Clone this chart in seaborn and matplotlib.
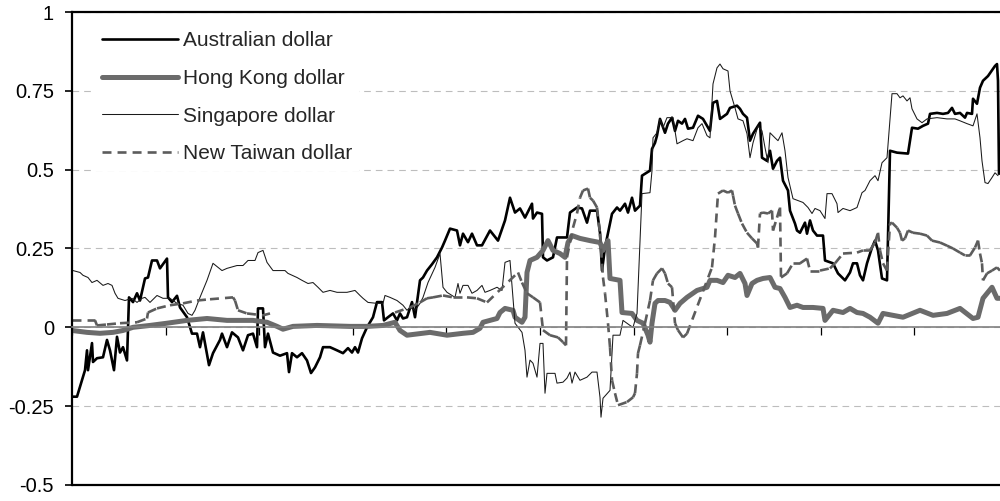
# plot.py
# Asian currency co-movement chart, rebuilt with seaborn / matplotlib

import numpy as np
import pandas as pd
import matplotlib
matplotlib.use("Agg")
import matplotlib.pyplot as plt
import seaborn as sns
from matplotlib.collections import LineCollection
from matplotlib.lines import Line2D

# ---------- DATA ----------
# obs = observation number along the time axis, one year = 93.6 observations
AUD = [
    (1, -0.22), (5, -0.22), (13, -0.136), (15, -0.073), (16, -0.136), (20, -0.05), (21, -0.11),
    (25, -0.098), (31, -0.095), (35, -0.04), (38, -0.073), (42, -0.136), (45, -0.03), (48, -0.08),
    (51, -0.063), (55, -0.105), (57, 0.095), (61, 0.08), (65, 0.108), (68, 0.085), (73, 0.155),
    (76, 0.158), (80, 0.212), (85, 0.212), (88, 0.187), (95, 0.218), (96, 0.095), (100, 0.08),
    (105, 0.1), (108, 0.063), (115, 0.032), (120, -0.02), (125, -0.02), (128, -0.063), (131, -0.016),
    (137, -0.12), (141, -0.082), (148, -0.04), (150, -0.02), (155, -0.063), (160, -0.016),
    (166, -0.032), (171, -0.073), (176, -0.025), (181, -0.02), (185, -0.063), (186, 0.06),
    (191, 0.06), (193, -0.063), (196, -0.02), (201, -0.08), (208, -0.09), (215, -0.082),
    (217, -0.142), (220, -0.082), (225, -0.095), (230, -0.082), (235, -0.105), (239, -0.145),
    (243, -0.127), (248, -0.095), (251, -0.063), (258, -0.063), (265, -0.073), (271, -0.082),
    (276, -0.066), (280, -0.08), (283, -0.063), (286, -0.08), (290, -0.035), (295, 0.0),
    (301, 0.032), (305, 0.08), (310, 0.08), (312, 0.022), (316, 0.032), (321, 0.044), (325, 0.022),
    (328, 0.044), (331, 0.028), (335, 0.032), (340, 0.08), (343, 0.032), (348, 0.149), (351, 0.158),
    (355, 0.18), (360, 0.2), (365, 0.222), (370, 0.253), (373, 0.275), (378, 0.313), (385, 0.307),
    (388, 0.26), (391, 0.297), (396, 0.27), (400, 0.297), (405, 0.26), (410, 0.26), (418, 0.307),
    (426, 0.275), (433, 0.339), (438, 0.411), (443, 0.364), (448, 0.377), (453, 0.348),
    (460, 0.392), (461, 0.345), (465, 0.364), (470, 0.36), (471, 0.222), (475, 0.212),
    (481, 0.222), (485, 0.285), (495, 0.285), (498, 0.364), (505, 0.38), (510, 0.377),
    (515, 0.332), (518, 0.37), (525, 0.37), (528, 0.3), (530, 0.18), (533, 0.253), (540, 0.36),
    (545, 0.38), (548, 0.37), (553, 0.392), (556, 0.364), (560, 0.411), (563, 0.37), (568, 0.386),
    (570, 0.481), (578, 0.497), (580, 0.566), (583, 0.585), (585, 0.608), (588, 0.661),
    (593, 0.617), (596, 0.646), (600, 0.665), (603, 0.623), (606, 0.655), (610, 0.646),
    (613, 0.661), (616, 0.63), (621, 0.633), (626, 0.671), (631, 0.661), (635, 0.639),
    (638, 0.623), (641, 0.712), (645, 0.718), (648, 0.661), (655, 0.677), (658, 0.696),
    (665, 0.703), (668, 0.693), (671, 0.677), (675, 0.665), (678, 0.592), (681, 0.614),
    (688, 0.649), (690, 0.538), (695, 0.528), (698, 0.56), (701, 0.503), (705, 0.528),
    (708, 0.538), (711, 0.465), (716, 0.434), (718, 0.37), (723, 0.329), (725, 0.307),
    (728, 0.3), (733, 0.332), (735, 0.297), (738, 0.339), (741, 0.307), (745, 0.291),
    (751, 0.291), (753, 0.212), (761, 0.203), (766, 0.171), (773, 0.149), (778, 0.174),
    (781, 0.203), (785, 0.203), (788, 0.165), (791, 0.149), (795, 0.203), (800, 0.253),
    (803, 0.275), (806, 0.244), (810, 0.155), (815, 0.149), (818, 0.56), (825, 0.554),
    (836, 0.551), (840, 0.633), (846, 0.63), (851, 0.639), (856, 0.646), (858, 0.677),
    (865, 0.68), (871, 0.677), (876, 0.68), (880, 0.696), (883, 0.677), (888, 0.68),
    (893, 0.665), (895, 0.68), (900, 0.677), (901, 0.725), (905, 0.709), (908, 0.76),
    (911, 0.782), (916, 0.797), (923, 0.829), (925, 0.835), (926, 0.782), (927, 0.487),
]

HKD = [
    (0, -0.01), (15, -0.016), (28, -0.019), (41, -0.016), (51, -0.01), (61, 0.0), (78, 0.006),
    (95, 0.013), (115, 0.022), (135, 0.028), (155, 0.022), (181, 0.022), (195, 0.016),
    (205, 0.003), (211, -0.006), (221, 0.003), (245, 0.006), (278, 0.003), (295, 0.003),
    (311, 0.006), (323, 0.016), (328, -0.01), (335, -0.025), (358, -0.016), (375, -0.025),
    (391, -0.019), (401, -0.016), (408, -0.003), (411, 0.016), (418, 0.022), (425, 0.028),
    (428, 0.047), (433, 0.06), (441, 0.054), (443, 0.032), (450, 0.016), (453, 0.032),
    (455, 0.174), (458, 0.212), (465, 0.222), (471, 0.244), (476, 0.275), (481, 0.244),
    (488, 0.234), (493, 0.222), (496, 0.269), (500, 0.291), (508, 0.282), (518, 0.275),
    (528, 0.269), (531, 0.244), (536, 0.275), (538, 0.155), (548, 0.149), (550, 0.047),
    (560, 0.044), (565, 0.022), (571, 0.013), (576, -0.025), (578, -0.047), (580, 0.013),
    (583, 0.076), (586, 0.085), (593, 0.085), (598, 0.079), (603, 0.054), (608, 0.076),
    (615, 0.095), (625, 0.117), (635, 0.127), (638, 0.149), (645, 0.149), (651, 0.142),
    (656, 0.165), (663, 0.158), (668, 0.171), (673, 0.139), (675, 0.101), (680, 0.139),
    (685, 0.149), (691, 0.155), (698, 0.158), (703, 0.127), (708, 0.123), (713, 0.095),
    (718, 0.063), (725, 0.07), (731, 0.063), (741, 0.063), (751, 0.06), (753, 0.022),
    (761, 0.054), (771, 0.047), (778, 0.06), (785, 0.047), (791, 0.044), (798, 0.032),
    (806, 0.013), (811, 0.044), (821, 0.038), (831, 0.032), (848, 0.054), (861, 0.038),
    (875, 0.044), (888, 0.06), (901, 0.028), (906, 0.032), (911, 0.092), (920, 0.127),
    (925, 0.092), (928, 0.092),
]

SGD = [
    (1, 0.18), (8, 0.174), (11, 0.165), (16, 0.158), (20, 0.142), (25, 0.149), (31, 0.133),
    (36, 0.139), (40, 0.133), (43, 0.108), (46, 0.092), (53, 0.085), (60, 0.092), (65, 0.079),
    (70, 0.092), (73, 0.095), (78, 0.079), (85, 0.101), (91, 0.092), (98, 0.092), (105, 0.076),
    (111, 0.07), (116, 0.044), (120, 0.038), (123, 0.054), (128, 0.095), (135, 0.149),
    (141, 0.203), (146, 0.19), (150, 0.18), (155, 0.187), (165, 0.196), (171, 0.196),
    (176, 0.212), (183, 0.212), (186, 0.237), (191, 0.244), (195, 0.206), (201, 0.18),
    (213, 0.18), (216, 0.171), (225, 0.158), (230, 0.149), (236, 0.139), (241, 0.142),
    (246, 0.127), (251, 0.111), (258, 0.117), (265, 0.111), (275, 0.111), (283, 0.117),
    (288, 0.101), (291, 0.092), (296, 0.079), (305, 0.076), (311, 0.076), (313, 0.101),
    (318, 0.095), (325, 0.085), (331, 0.07), (335, 0.054), (338, 0.063), (343, 0.054),
    (348, 0.076), (351, 0.095), (356, 0.142), (363, 0.19), (368, 0.234), (371, 0.127),
    (375, 0.111), (383, 0.095), (386, 0.139), (388, 0.108), (391, 0.133), (396, 0.133),
    (400, 0.108), (405, 0.117), (410, 0.133), (413, 0.111), (418, 0.117), (425, 0.127),
    (430, 0.117), (433, 0.206), (438, 0.212), (443, 0.013), (450, -0.016), (453, -0.073),
    (455, -0.158), (458, -0.104), (461, -0.114), (465, -0.158), (468, -0.051), (471, -0.051),
    (473, -0.209), (475, -0.146), (483, -0.146), (485, -0.177), (491, -0.174), (495, -0.161),
    (498, -0.142), (500, -0.177), (503, -0.142), (508, -0.168), (515, -0.158), (520, -0.142),
    (525, -0.142), (528, -0.222), (529, -0.285), (531, -0.225), (538, -0.2), (541, -0.025),
    (548, -0.025), (551, 0.022), (558, 0.006), (561, 0.0), (565, 0.044), (570, 0.424),
    (578, 0.427), (580, 0.497), (581, 0.601), (585, 0.617), (588, 0.661), (591, 0.633),
    (595, 0.665), (601, 0.665), (605, 0.582), (611, 0.592), (615, 0.598), (621, 0.592),
    (626, 0.633), (630, 0.646), (635, 0.608), (638, 0.601), (641, 0.772), (645, 0.823),
    (648, 0.835), (651, 0.82), (656, 0.813), (658, 0.75), (663, 0.696), (666, 0.661),
    (671, 0.655), (675, 0.614), (678, 0.538), (681, 0.585), (686, 0.639), (690, 0.623),
    (693, 0.57), (696, 0.522), (698, 0.617), (703, 0.601), (706, 0.592), (710, 0.617),
    (713, 0.56), (716, 0.475), (721, 0.408), (726, 0.402), (731, 0.396), (736, 0.38),
    (740, 0.361), (743, 0.377), (748, 0.37), (753, 0.345), (755, 0.424), (760, 0.424),
    (765, 0.392), (766, 0.364), (771, 0.377), (778, 0.37), (785, 0.38), (790, 0.427),
    (793, 0.434), (798, 0.465), (803, 0.481), (806, 0.465), (810, 0.522), (815, 0.538),
    (820, 0.741), (825, 0.741), (828, 0.728), (831, 0.734), (835, 0.718), (838, 0.728),
    (840, 0.693), (845, 0.661), (850, 0.649), (855, 0.661), (865, 0.665), (875, 0.661),
    (883, 0.661), (888, 0.655), (895, 0.646), (901, 0.639), (905, 0.677), (908, 0.601),
    (910, 0.528), (913, 0.459), (916, 0.456), (920, 0.475), (923, 0.49), (926, 0.481),
]

# NaN marks a break in the New Taiwan dollar series
TWD = [
    (0, 0.022), (23, 0.022), (25, 0.006), (35, 0.009), (48, 0.013), (65, 0.016), (75, 0.028),
    (76, 0.047), (85, 0.06), (98, 0.07), (111, 0.076), (125, 0.085), (138, 0.089), (161, 0.095),
    (163, 0.085), (166, 0.054), (175, 0.044), (191, 0.038), (198, 0.044), (199, np.nan),
    (323, 0.047), (338, 0.063), (348, 0.079), (355, 0.092), (361, 0.095), (371, 0.101),
    (381, 0.095), (395, 0.095), (405, 0.092), (415, 0.079), (446, 0.174), (450, 0.142),
    (455, 0.108), (461, 0.095), (468, 0.079), (471, -0.009), (478, -0.025), (486, -0.032),
    (491, -0.047), (494, -0.057), (495, 0.222), (501, 0.316), (505, 0.361), (508, 0.411),
    (511, 0.434), (516, 0.44), (518, 0.411), (521, 0.402), (525, 0.38), (528, 0.297),
    (531, 0.158), (533, 0.108), (536, 0.013), (538, -0.063), (540, -0.168), (543, -0.209),
    (546, -0.247), (555, -0.237), (561, -0.222), (563, -0.209), (565, -0.146), (566, -0.082),
    (568, -0.057), (573, 0.013), (578, 0.085), (581, 0.149), (585, 0.171), (590, 0.187),
    (593, 0.171), (596, 0.139), (600, 0.127), (603, 0.013), (606, -0.009), (611, -0.032),
    (615, -0.02), (640, 0.19), (643, 0.285), (646, 0.424), (651, 0.434), (656, 0.427),
    (660, 0.434), (661, 0.418), (663, 0.386), (666, 0.361), (670, 0.329), (675, 0.3),
    (680, 0.282), (685, 0.266), (686, 0.253), (688, 0.361), (691, 0.364), (696, 0.361),
    (700, 0.37), (701, 0.307), (705, 0.348), (708, 0.38), (709, 0.158), (715, 0.171),
    (721, 0.203), (728, 0.203), (735, 0.218), (738, 0.18), (748, 0.18), (758, 0.187),
    (763, 0.203), (771, 0.234), (785, 0.237), (791, 0.244), (798, 0.244), (803, 0.269),
    (806, 0.3), (808, 0.244), (811, 0.203), (815, 0.18), (818, 0.329), (820, 0.332),
    (825, 0.316), (828, 0.3), (830, 0.275), (833, 0.282), (836, 0.307), (841, 0.3),
    (848, 0.297), (855, 0.291), (860, 0.275), (868, 0.269), (875, 0.259), (881, 0.25),
    (888, 0.237), (893, 0.228), (898, 0.228), (903, 0.253), (906, 0.275), (908, 0.234),
    (910, 0.203), (911, 0.149), (915, 0.171), (920, 0.18), (925, 0.19), (928, 0.18),
]

LABELS = ["Australian dollar", "Hong Kong dollar", "Singapore dollar", "New Taiwan dollar"]
YTICKS = [-0.5, -0.25, 0, 0.25, 0.5, 0.75, 1]
N_OBS = 936
N_YEARS = 10

# ---------- STYLE ----------
sns.set_style("white")
plt.rcParams["font.family"] = ["Liberation Sans", "DejaVu Sans"]
FS = 14.5
LEG_FS = 15

STYLES = {
    "Australian dollar": dict(color="black", lw=1.9),
    "Hong Kong dollar": dict(color="#6b6b6b", lw=3.6),
    "Singapore dollar": dict(color="#1a1a1a", lw=0.75),
    "New Taiwan dollar": dict(color="#5c5c5c", lw=1.9),
}
TWD_DASH = (3.4, 2.3)

fig = plt.figure(figsize=(10, 5.01), dpi=100)
ax = fig.add_axes([0.072, 0.032, 0.936, 0.944])

# ---------- PLOT ----------
for label, data in zip(LABELS, [AUD, HKD, SGD]):
    df = pd.DataFrame(data, columns=["obs", "value"])
    st = STYLES[label]
    sns.lineplot(data=df, x="obs", y="value", estimator=None, sort=False,
                 color=st["color"], linewidth=st["lw"], ax=ax)

# New Taiwan dollar: Excel-style dashes that restart on every segment
twd = pd.DataFrame(TWD, columns=["obs", "value"])
twd["piece"] = twd["value"].isna().cumsum()
n_before = len(ax.lines)
sns.lineplot(data=twd.dropna(), x="obs", y="value", units="piece", estimator=None,
             sort=False, color=STYLES["New Taiwan dollar"]["color"],
             linewidth=STYLES["New Taiwan dollar"]["lw"], ax=ax)
for line in ax.lines[n_before:]:
    xy = line.get_xydata()
    segs = np.stack([xy[:-1], xy[1:]], axis=1)
    lc = LineCollection(segs, colors=line.get_color(), linewidths=line.get_linewidth(),
                        linestyles=[(0, TWD_DASH)], capstyle="butt")
    ax.add_collection(lc)
    line.remove()

# ---------- AXES ----------
ax.set_xlim(0, N_OBS)
ax.set_ylim(-0.5, 1)
ax.set_xlabel("")
ax.set_ylabel("")

ax.set_yticks(YTICKS)
ax.set_yticklabels([f"{v:g}" for v in YTICKS])
ax.set_xticks(np.linspace(0, N_OBS, N_YEARS + 1))
ax.tick_params(axis="x", direction="out", length=5.5, width=0.9, color="black",
               bottom=True, labelbottom=False)
ax.tick_params(axis="y", direction="out", length=5, width=1.2, color="black",
               pad=8, labelsize=FS, labelcolor="black", left=True)

ax.yaxis.grid(True, linestyle=(0, (6, 4.5)), color="#bdbdbd", linewidth=0.8)
ax.xaxis.grid(False)
ax.set_axisbelow(True)

# category axis crosses at zero, plot area frame in black
ax.spines["bottom"].set_position(("data", 0))
ax.spines["bottom"].set_color("#808080")
ax.spines["bottom"].set_linewidth(1.2)
ax.spines["right"].set_visible(False)
for side in ["left", "top"]:
    ax.spines[side].set_color("black")
    ax.spines[side].set_linewidth(1.6)
ax.axhline(-0.5, color="black", lw=1.6, clip_on=False, zorder=5)

# ---------- LEGEND ----------
handles = [
    Line2D([], [], color=STYLES[l]["color"], lw=STYLES[l]["lw"],
           linestyle=(0, TWD_DASH) if l == "New Taiwan dollar" else "-")
    for l in LABELS
]
ax.legend(handles, LABELS, loc="upper left", bbox_to_anchor=(0.0246, 0.975),
          frameon=True, facecolor="white", edgecolor="none", framealpha=1,
          fancybox=False, handlelength=3.65, handletextpad=0.2, labelspacing=0.9,
          borderpad=0.35, borderaxespad=0, fontsize=LEG_FS)

fig.savefig("out.png", dpi=100)
print("saved out.png")
